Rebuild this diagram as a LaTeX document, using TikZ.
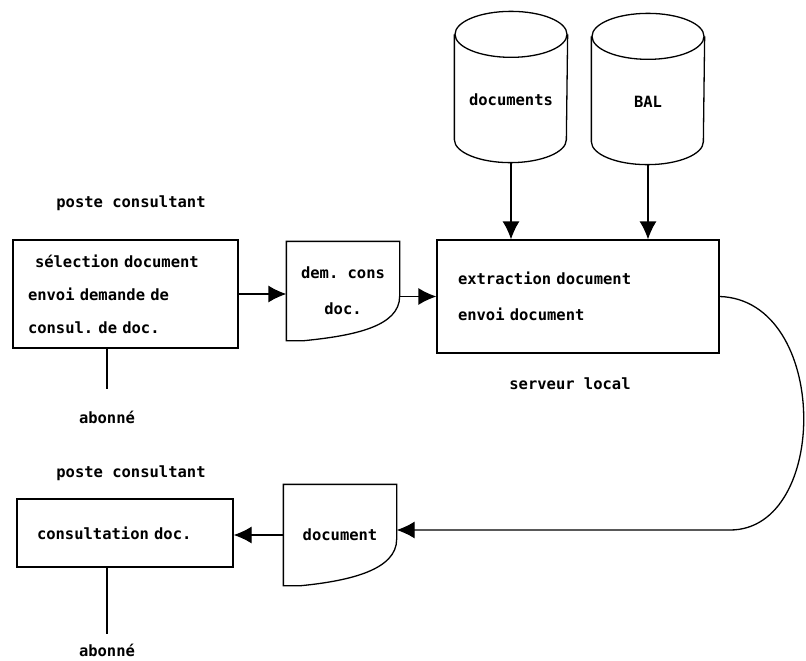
\documentclass[tikz,border=0pt]{standalone}
\usepackage{fontspec}
\setmainfont{DejaVu Sans Mono}[WordSpace={1,0,0}]
\usetikzlibrary{arrows.meta,calc}
\begin{document}
\frenchspacing
\begin{tikzpicture}[x=1pt, y=-1pt, font=\bfseries\fontsize{15.5}{33}\selectfont,
    line width=1.3pt, >={Latex[length=18pt,width=17pt]},
    box/.style={draw, rectangle, inner ysep=0pt, align=left},
    sheet/.style={rectangle, minimum width=112pt, minimum height=100pt, align=center},
    store/.style={rectangle, minimum width=112pt, minimum height=150pt, inner sep=0pt}]
  \useasboundingbox (0,0) rectangle (806,661);
  % stores
  \node[store, label={[yshift=-13pt]center:documents}] (docs) at (511,87) {};
  \node[store, label={[yshift=-13pt]center:BAL}] (bal) at (648,89) {};
  \foreach \n in {docs, bal} {
    \draw ($(\n.north)+(0,23)$) ellipse [x radius=56, y radius=23];
    \draw ($(\n.north west)+(0,23)$) -- ($(\n.south west)+(0,-23)$)
      arc [start angle=180, end angle=0, x radius=56, y radius=23] -- ($(\n.north east)+(0,23)$);
  }
  % processes
  \node[box, minimum height=108pt, text width=195pt, inner xsep=15pt] (sel) at (125.5,294)
    {\hspace{7pt}sélection document\\envoi demande de\\consul. de doc.};
  \node[box, minimum height=113pt, text width=240pt, inner xsep=21pt] (ext) at (578,296.5)
    {extraction document\\[3pt]envoi document};
  \node[box, minimum height=68pt, text width=176pt, inner xsep=20pt] (cons) at (125,533)
    {consultation doc.};
  % sheets
  \node[sheet, minimum height=98pt] (dem) at (343,291) {dem. cons\\[3pt]doc.};
  \node[sheet] (docu) at (340,535) {document};
  \foreach \n in {dem, docu}
    \draw (\n.south west) -- (\n.north west) -- (\n.north east) -- ++(0,55)
      .. controls +(0,30) and +(50,-5) .. ($(\n.south west)+(18,0)$) -- cycle;
  % labels
  \node (poste1) at (131,203) {poste consultant};
  \node (abo1) at (107,417) {abonné};
  \node (poste2) at (131,473) {poste consultant};
  \node (abo2) at (107,650) {abonné};
  \node (serv) at (570,384) {serveur local};
  % flows
  \draw[->] (sel.east) -- (sel.east -| dem.west);
  \draw[->] (ext.west -| dem.east) -- (ext.west);
  \draw[->] (docs.south) -- (docs.south |- ext.north);
  \draw[->] (bal.south) -- (bal.south |- ext.north);
  \coordinate (bend) at (730,530);
  \draw[->] (ext.east) .. controls (830,300) and (830,530) .. (bend) -- (bend -| docu.east);
  \draw[->] (docu.west) -- (docu.west -| cons.east);
  \draw[shorten >=18pt] (sel.south -| abo1) -- (abo1.north);
  \draw[shorten >=6pt] (cons.south -| abo2) -- (abo2.north);
\end{tikzpicture}
\end{document}
